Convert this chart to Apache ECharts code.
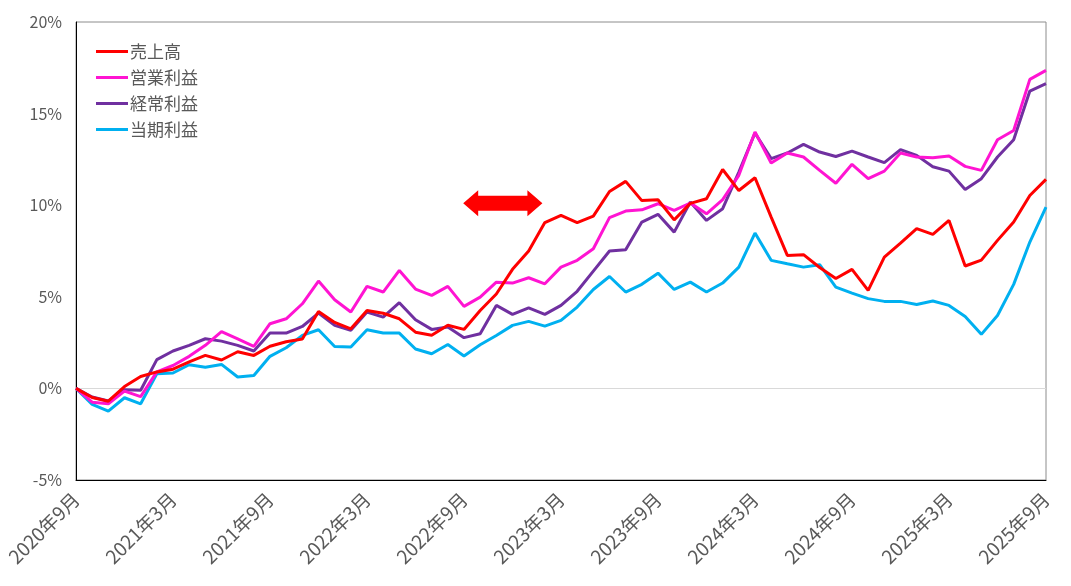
<!DOCTYPE html>
<html>
<head>
<meta charset="utf-8">
<script src="https://cdn.jsdelivr.net/npm/echarts@6/dist/echarts.min.js"></script>
<style>
html,body{margin:0;padding:0;background:#fff;}
#chart{width:1071px;height:586px;}
</style>
</head>
<body>
<div id="chart"></div>
<script>
const categories = [
 '2020年9月','2020年10月','2020年11月','2020年12月','2021年1月','2021年2月','2021年3月','2021年4月','2021年5月','2021年6月','2021年7月','2021年8月',
 '2021年9月','2021年10月','2021年11月','2021年12月','2022年1月','2022年2月','2022年3月','2022年4月','2022年5月','2022年6月','2022年7月','2022年8月',
 '2022年9月','2022年10月','2022年11月','2022年12月','2023年1月','2023年2月','2023年3月','2023年4月','2023年5月','2023年6月','2023年7月','2023年8月',
 '2023年9月','2023年10月','2023年11月','2023年12月','2024年1月','2024年2月','2024年3月','2024年4月','2024年5月','2024年6月','2024年7月','2024年8月',
 '2024年9月','2024年10月','2024年11月','2024年12月','2025年1月','2025年2月','2025年3月','2025年4月','2025年5月','2025年6月','2025年7月','2025年8月',
 '2025年9月'
];
const seriesNames = ['売上高','営業利益','経常利益','当期利益'];
const sales = [
 0,-0.5,-0.7,0.1,0.65,0.9,1.05,1.45,1.8,1.55,2.0,1.8,
 2.3,2.55,2.7,4.2,3.6,3.25,4.25,4.1,3.8,3.07,2.9,3.45,
 3.22,4.25,5.15,6.5,7.5,9.05,9.45,9.05,9.4,10.75,11.3,10.25,
 10.3,9.2,10.1,10.35,11.95,10.8,11.5,9.35,7.26,7.3,6.6,6.0,
 6.5,5.35,7.17,7.93,8.72,8.41,9.17,6.68,7.0,8.08,9.08,10.53,
 11.41
];
const operatingProfit = [
 0,-0.75,-0.84,-0.15,-0.45,0.9,1.25,1.75,2.35,3.1,2.7,2.3,
 3.53,3.8,4.62,5.86,4.84,4.17,5.57,5.26,6.44,5.42,5.08,5.57,
 4.48,4.98,5.8,5.75,6.04,5.71,6.62,6.99,7.62,9.32,9.68,9.75,
 10.08,9.72,10.12,9.53,10.3,11.63,14.0,12.3,12.85,12.63,11.9,11.2,
 12.23,11.45,11.86,12.85,12.63,12.59,12.68,12.12,11.9,13.57,14.08,16.87,
 17.36
];
const ordinaryProfit = [
 0,-0.47,-0.69,-0.07,-0.1,1.57,2.04,2.35,2.71,2.58,2.35,2.04,
 3.02,3.02,3.38,4.11,3.44,3.17,4.17,3.89,4.68,3.75,3.22,3.35,
 2.77,2.98,4.53,4.04,4.4,4.04,4.53,5.3,6.4,7.5,7.57,9.08,
 9.5,8.53,10.17,9.17,9.81,11.81,13.94,12.54,12.85,13.32,12.9,12.66,
 12.95,12.63,12.32,13.03,12.72,12.1,11.86,10.86,11.45,12.63,13.57,16.23,
 16.63
];
const netProfit = [
 0,-0.87,-1.24,-0.51,-0.84,0.8,0.84,1.29,1.16,1.31,0.62,0.7,
 1.75,2.22,2.89,3.2,2.29,2.26,3.2,3.02,3.02,2.15,1.89,2.4,
 1.77,2.38,2.89,3.44,3.66,3.4,3.71,4.44,5.4,6.11,5.26,5.68,
 6.29,5.4,5.8,5.26,5.75,6.62,8.48,6.99,6.8,6.62,6.75,5.53,
 5.2,4.9,4.75,4.75,4.58,4.77,4.53,3.93,2.95,3.98,5.68,7.99,
 9.9
];
const yTicks = [-5, 0, 5, 10, 15, 20];
// double-headed arrow annotation: [from month index, to month index, level %]
const arrowSpan = [23.95, 28.85, 10.1];

const colors = ['#FF0000', '#FF14D2', '#7030A0', '#00B0F0'];
const dataSets = [sales, operatingProfit, ordinaryProfit, netProfit];
const FONT = '"Noto Sans CJK JP", "Noto Sans", sans-serif';

const chart = echarts.init(document.getElementById('chart'), null, {renderer: 'canvas'});
const lineSeries = seriesNames.map((n, i) => ({
  name: n,
  type: 'line',
  data: dataSets[i],
  symbol: 'none',
  smooth: false,
  lineStyle: {width: 3, color: colors[i]},
  itemStyle: {color: colors[i]},
  z: 10 - i,
  emphasis: {disabled: true},
  animation: false
}));
lineSeries[0].markLine = {
  silent: true,
  symbol: 'none',
  label: {show: false},
  lineStyle: {color: '#D9D9D9', width: 1, type: 'solid'},
  data: [{yAxis: 0}],
  z: 1
};
lineSeries.push({
  name: 'arrow',
  type: 'custom',
  xAxisIndex: 1,
  silent: true,
  z: 20,
  data: [arrowSpan],
  encode: {x: [0, 1], y: 2},
  renderItem: function (params, api) {
    const p1 = api.coord([api.value(0), api.value(2)]);
    const p2 = api.coord([api.value(1), api.value(2)]);
    const hl = 15, hh = 13, sh = 7.5;
    const x1 = p1[0], x2 = p2[0], y = p1[1];
    return {
      type: 'polygon',
      shape: {points: [
        [x1, y], [x1 + hl, y - hh], [x1 + hl, y - sh], [x2 - hl, y - sh], [x2 - hl, y - hh],
        [x2, y], [x2 - hl, y + hh], [x2 - hl, y + sh], [x1 + hl, y + sh], [x1 + hl, y + hh]
      ]},
      style: {fill: '#FF0000'}
    };
  }
});

chart.setOption({
  animation: false,
  backgroundColor: '#FFFFFF',
  textStyle: {fontFamily: FONT},
  grid: {
    left: 76, right: 25, top: 22, bottom: 106,
    show: true, borderColor: '#8C8C8C', borderWidth: 1,
    outerBoundsMode: 'none'
  },
  legend: {
    data: seriesNames,
    orient: 'vertical',
    left: 91, top: 38,
    itemWidth: 32, itemHeight: 14, itemGap: 9,
    icon: 'path://M0,6 L32,6 L32,9 L0,9 Z',
    textStyle: {color: '#595959', fontSize: 17, fontFamily: FONT, padding: [0, 0, 0, -3]},
    selectedMode: false
  },
  xAxis: [{
    type: 'category',
    data: categories,
    boundaryGap: false,
    axisLine: {onZero: false, lineStyle: {color: '#000000', width: 1}},
    axisTick: {show: false},
    axisLabel: {
      interval: 5, rotate: 45, color: '#595959', fontSize: 19, fontFamily: FONT, margin: 16,
      showMaxLabel: true
    },
    splitLine: {show: false}
  }, {
    type: 'value', min: 0, max: 60, show: false
  }],
  yAxis: {
    type: 'value',
    min: yTicks[0], max: yTicks[yTicks.length - 1], interval: 5,
    axisLine: {show: true, lineStyle: {color: '#000000', width: 1}},
    axisTick: {show: false},
    axisLabel: {formatter: v => v + '%', color: '#595959', fontSize: 16, fontFamily: FONT, margin: 14},
    splitLine: {show: false}
  },
  series: lineSeries
});
</script>
</body>
</html>
